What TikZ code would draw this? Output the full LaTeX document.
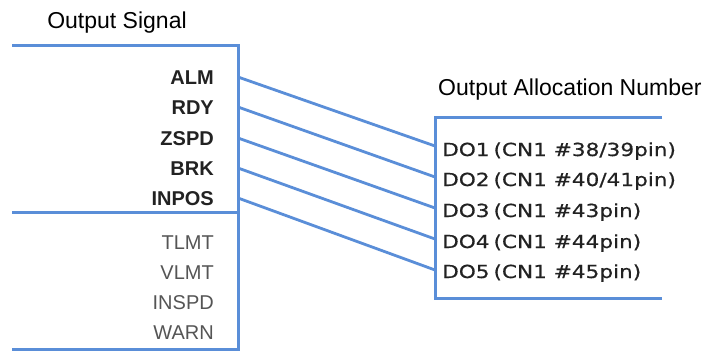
\documentclass[tikz,border=0pt]{standalone}
\usepackage{fontspec}
\setmainfont{Liberation Sans}
\newfontfamily\dofont[FakeStretch=1.2,FakeBold=0.6]{DejaVu Sans}
\definecolor{boxblue}{HTML}{5A8ED8}
\definecolor{txtdark}{HTML}{222222}
\definecolor{txtgray}{HTML}{555555}
\newcommand{\thinsp}{\hspace{0.22em}}
\tikzset{
  frame/.style={draw=boxblue, line width=3pt},
  wire/.style={draw=boxblue, line width=2.8pt},
  title/.style={inner sep=0pt, font=\fontsize{23}{26}\selectfont, text=black},
  sig/.style={inner sep=0pt, anchor=base east, font=\bfseries\fontsize{20}{22}\selectfont, text=txtdark},
  sigoff/.style={inner sep=0pt, anchor=base east, font=\fontsize{20}{22}\selectfont, text=txtgray},
  dolabel/.style={inner sep=0pt, anchor=base west, font=\dofont\fontsize{18}{20}\selectfont, text=txtdark},
}
\begin{document}
\begin{tikzpicture}[x=1pt,y=-1pt]
\useasboundingbox (0,0) rectangle (709,351);
% titles
\node[title, anchor=base] (t_sig) at (117,28) {Output Signal};
\node[title, anchor=base west] (t_alloc) at (438,95) {Output Allocation Number};
% left box
\coordinate (lb_tl) at (12,45);
\coordinate (lb_tr) at (238,45);
\coordinate (lb_br) at (238,349.5);
\coordinate (lb_bl) at (12,349.5);
\coordinate (lb_ml) at (12,212);
\coordinate (lb_mr) at (238,212);
\draw[frame] (lb_tl) -- (lb_tr) -- (lb_br) -- (lb_bl);
\draw[frame] (lb_ml) -- (lb_mr);
% right box
\coordinate (rb_tr) at (662,117);
\coordinate (rb_tl) at (435,117);
\coordinate (rb_bl) at (435,298);
\coordinate (rb_br) at (662,298);
\draw[frame] (rb_tr) -- (rb_tl) -- (rb_bl) -- (rb_br);
% active signals
\node[sig] (alm) at (214,84) {ALM};
\node[sig] (rdy) at (214,114) {RDY};
\node[sig] (zspd) at (214,145) {ZSPD};
\node[sig] (brk) at (214,175) {BRK};
\node[sig] (inpos) at (214,205) {INPOS};
% inactive signals
\node[sigoff] (tlmt) at (214,249) {TLMT};
\node[sigoff] (vlmt) at (214,279) {VLMT};
\node[sigoff] (inspd) at (214,309) {INSPD};
\node[sigoff] (warn) at (214,339) {WARN};
% outputs
\node[dolabel] (do1) at (442,156) {DO1\thinsp(CN1 \#38/39pin)};
\node[dolabel] (do2) at (442,186) {DO2\thinsp(CN1 \#40/41pin)};
\node[dolabel] (do3) at (442,217) {DO3\thinsp(CN1 \#43pin)};
\node[dolabel] (do4) at (442,248) {DO4\thinsp(CN1 \#44pin)};
\node[dolabel] (do5) at (442,278) {DO5\thinsp(CN1 \#45pin)};
% connector ends
\coordinate (s1) at (238,77);
\coordinate (s2) at (238,107);
\coordinate (s3) at (238,138);
\coordinate (s4) at (238,168);
\coordinate (s5) at (238,198);
\coordinate (e1) at (435,146);
\coordinate (e2) at (435,177);
\coordinate (e3) at (435,208);
\coordinate (e4) at (435,239);
\coordinate (e5) at (435,270);
\draw[wire] (s1) -- (e1);
\draw[wire] (s2) -- (e2);
\draw[wire] (s3) -- (e3);
\draw[wire] (s4) -- (e4);
\draw[wire] (s5) -- (e5);
\end{tikzpicture}
\end{document}
